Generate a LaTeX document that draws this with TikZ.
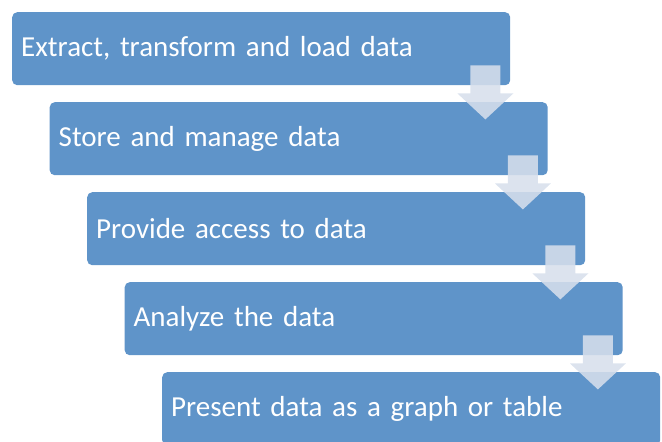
\documentclass[tikz,border=0pt]{standalone}
\usepackage{fontspec}
\setmainfont{Carlito}
\usetikzlibrary{calc}
\definecolor{boxblue}{RGB}{95,148,201}
\definecolor{arrowfill}{RGB}{215,223,236}
\newcommand{\boxfont}{\fontsize{29}{33}\selectfont\spaceskip=0.16em\relax}
\tikzset{
  stepbox/.style={fill=boxblue, rounded corners=5pt, minimum width=498pt, minimum height=73pt,
    anchor=north west, text=white, align=left, text width=480pt, inner xsep=9pt,
    font=\boxfont},
  blockarrow/.style={fill=arrowfill, fill opacity=0.87, draw=none}
}
\newcommand{\blockarr}[1]{%
  \path[blockarrow] ($(#1.south east)+(-40,-20)$) -- ($(#1.south east)+(-10,-20)$)
    -- ($(#1.south east)+(-10,8)$) -- ($(#1.south east)+(3,8)$)
    -- ($(#1.south east)+(-25,34)$) -- ($(#1.south east)+(-53,8)$)
    -- ($(#1.south east)+(-40,8)$) -- cycle;}
\begin{document}
\begin{tikzpicture}[x=1pt,y=-1pt]
\useasboundingbox (0,0) rectangle (662,442);
\clip (0,0) rectangle (662,442);
\node[stepbox] (b1) at (12,12) {Extract, transform and load data};
\node[stepbox] (b2) at (49.5,102) {Store and manage data};
\node[stepbox] (b3) at (87,192) {Provide access to data};
\node[stepbox] (b4) at (124.5,282) {Analyze the data};
\node[stepbox] (b5) at (162,372) {Present data as a graph or table};
\blockarr{b1}
\blockarr{b2}
\blockarr{b3}
\blockarr{b4}
\end{tikzpicture}
\end{document}
